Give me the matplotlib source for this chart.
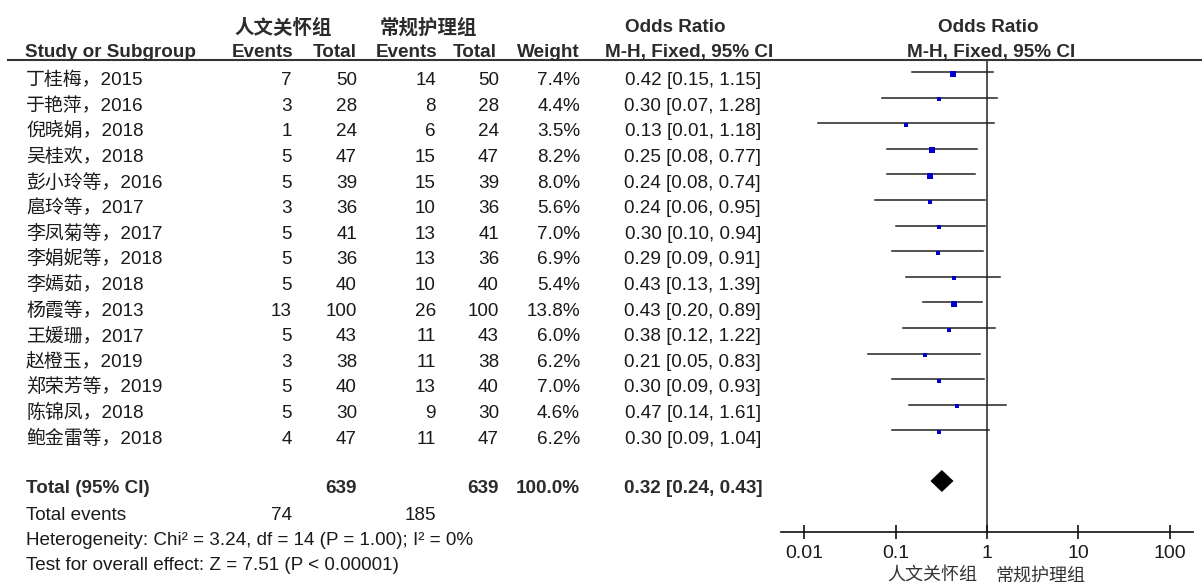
import matplotlib
matplotlib.use("Agg")
import matplotlib.pyplot as plt
import numpy as np

plt.rcParams['font.family'] = ['Liberation Sans', 'Noto Sans CJK SC', 'DejaVu Sans']

# ---------------- data ----------------
studies = ["丁桂梅，2015", "于艳萍，2016", "倪晓娟，2018", "吴桂欢，2018", "彭小玲等，2016",
           "扈玲等，2017", "李凤菊等，2017", "李娟妮等，2018", "李嫣茹，2018", "杨霞等，2013",
           "王媛珊，2017", "赵橙玉，2019", "郑荣芳等，2019", "陈锦凤，2018", "鲍金雷等，2018"]
events_exp = [7, 3, 1, 5, 5, 3, 5, 5, 5, 13, 5, 3, 5, 5, 4]
total_exp = [50, 28, 24, 47, 39, 36, 41, 36, 40, 100, 43, 38, 40, 30, 47]
events_ctl = [14, 8, 6, 15, 15, 10, 13, 13, 10, 26, 11, 11, 13, 9, 11]
total_ctl = [50, 28, 24, 47, 39, 36, 41, 36, 40, 100, 43, 38, 40, 30, 47]
weights = [7.4, 4.4, 3.5, 8.2, 8.0, 5.6, 7.0, 6.9, 5.4, 13.8, 6.0, 6.2, 7.0, 4.6, 6.2]
odds = [0.42, 0.30, 0.13, 0.25, 0.24, 0.24, 0.30, 0.29, 0.43, 0.43, 0.38, 0.21, 0.30, 0.47, 0.30]
ci_low = [0.15, 0.07, 0.014, 0.08, 0.08, 0.06, 0.10, 0.09, 0.13, 0.20, 0.12, 0.05, 0.09, 0.14, 0.09]
ci_high = [1.15, 1.28, 1.18, 0.77, 0.74, 0.95, 0.94, 0.91, 1.39, 0.89, 1.22, 0.83, 0.93, 1.61, 1.04]
pooled = (0.32, 0.24, 0.43)
total_weight = 100.0
group_labels = ["人文关怀组", "常规护理组"]
tick_values = [0.01, 0.1, 1, 10, 100]
tick_labels = ["0.01", "0.1", "1", "10", "100"]
heterogeneity_text = "Heterogeneity: Chi² = 3.24, df = 14 (P = 1.00); I² = 0%"
overall_text = "Test for overall effect: Z = 7.51 (P < 0.00001)"

# ---------------- layout ----------------
W, H = 1202, 583
fig = plt.figure(figsize=(W / 100, H / 100), dpi=100)
ax = fig.add_axes([0, 0, 1, 1])
ax.set_xlim(0, W)
ax.set_ylim(H, 0)
ax.axis('off')

FS = 13.6
TXT = '#1a1a1a'
HDR = '#2b2b2b'
row0, dy = 73.5, 25.6
base_off = 11.7


def row_line(i):
    return row0 + dy * i


def row_base(i):
    return row_line(i) + base_off


x_name = 26
x_e1, x_t1, x_e2, x_t2, x_w, x_or = 292, 357, 436, 499, 580, 761
x_hdr_or = 689

# headers
ax.text(283, 34, group_labels[0], fontsize=14, fontweight='bold', color=HDR,
        ha='center', va='baseline', family=['Noto Sans CJK SC'])
ax.text(428, 34, group_labels[1], fontsize=14, fontweight='bold', color=HDR,
        ha='center', va='baseline', family=['Noto Sans CJK SC'])
hb2 = 57
ax.text(x_name - 1, hb2, "Study or Subgroup", fontsize=FS, fontweight='bold', color=HDR, ha='left', va='baseline')
for xx, lab in [(x_e1 + 1, "Events"), (x_t1, "Total"), (x_e2 + 1, "Events"), (x_t2 - 2, "Total"), (x_w, "Weight")]:
    ax.text(xx, hb2, lab, fontsize=FS, fontweight='bold', color=HDR, ha='right', va='baseline')
ax.text(x_hdr_or - 14, 32, "Odds Ratio", fontsize=FS, fontweight='bold', color=HDR, ha='center', va='baseline')
ax.text(x_hdr_or, hb2, "M-H, Fixed, 95% CI", fontsize=FS, fontweight='bold', color=HDR, ha='center', va='baseline')
ax.text(988, 32, "Odds Ratio", fontsize=FS, fontweight='bold', color=HDR, ha='center', va='baseline')
ax.text(991, hb2, "M-H, Fixed, 95% CI", fontsize=FS, fontweight='bold', color=HDR, ha='center', va='baseline')
ax.plot([7, W], [59.5, 59.5], color='#333333', lw=1.5, solid_capstyle='butt')

# study rows
for i, name in enumerate(studies):
    yb = row_base(i)
    ax.text(x_name, yb, name, fontsize=FS, color=TXT, ha='left', va='baseline')
    ax.text(x_e1, yb, str(events_exp[i]), fontsize=FS, color=TXT, ha='right', va='baseline')
    ax.text(x_t1, yb, str(total_exp[i]), fontsize=FS, color=TXT, ha='right', va='baseline')
    ax.text(x_e2, yb, str(events_ctl[i]), fontsize=FS, color=TXT, ha='right', va='baseline')
    ax.text(x_t2, yb, str(total_ctl[i]), fontsize=FS, color=TXT, ha='right', va='baseline')
    ax.text(x_w, yb, f"{weights[i]:.1f}%", fontsize=FS, color=TXT, ha='right', va='baseline')
    ax.text(x_or, yb, f"{odds[i]:.2f} [{ci_low[i]:.2f}, {ci_high[i]:.2f}]", fontsize=FS,
            color=TXT, ha='right', va='baseline')

# total row
tb = 493
ax.text(x_name, tb, "Total (95% CI)", fontsize=FS, fontweight='bold', color=HDR, ha='left', va='baseline')
ax.text(x_t1, tb, str(sum(total_exp)), fontsize=FS, fontweight='bold', color=HDR, ha='right', va='baseline')
ax.text(x_t2, tb, str(sum(total_ctl)), fontsize=FS, fontweight='bold', color=HDR, ha='right', va='baseline')
ax.text(x_w, tb, f"{total_weight:.1f}%", fontsize=FS, fontweight='bold', color=HDR, ha='right', va='baseline')
ax.text(x_or + 1, tb, f"{pooled[0]:.2f} [{pooled[1]:.2f}, {pooled[2]:.2f}]", fontsize=FS,
        fontweight='bold', color=HDR, ha='right', va='baseline')

eb = 519.5
ax.text(x_name, eb, "Total events", fontsize=FS, color=TXT, ha='left', va='baseline')
ax.text(x_e1, eb, str(sum(events_exp)), fontsize=FS, color=TXT, ha='right', va='baseline')
ax.text(x_e2, eb, str(sum(events_ctl)), fontsize=FS, color=TXT, ha='right', va='baseline')
ax.text(x_name, 545, heterogeneity_text, fontsize=FS, color=TXT, ha='left', va='baseline')
ax.text(x_name, 570.5, overall_text, fontsize=FS, color=TXT, ha='left', va='baseline')

# ---------------- forest axes ----------------
fx0, fx1 = 781, 1193
fy_top, fy_bot = 60, 532
axf = fig.add_axes([fx0 / W, (H - fy_bot) / H, (fx1 - fx0) / W, (fy_bot - fy_top) / H])
axf.set_xscale('log')
lim = 10 ** 2.256
axf.set_xlim(1 / lim, lim)
axf.set_ylim(fy_bot, fy_top)
axf.patch.set_alpha(0)
for s in ['left', 'right', 'top']:
    axf.spines[s].set_visible(False)
axf.spines['bottom'].set_linewidth(1.2)
axf.spines['bottom'].set_color('#111111')
axf.set_yticks([])
axf.set_xticks(tick_values)
axf.set_xticklabels(tick_labels)
axf.xaxis.set_minor_locator(matplotlib.ticker.NullLocator())
axf.tick_params(axis='x', direction='inout', length=10, width=1.2, color='#111111',
                labelsize=14, pad=4.3, labelcolor=TXT)

axf.axvline(1, color='#333333', lw=1.2, zorder=1)

for i in range(len(studies)):
    y = row_line(i)
    axf.plot([ci_low[i], ci_high[i]], [y - 1.5, y - 1.5], color='#222222', lw=1.1, clip_on=False, zorder=2)
    ms = 5.0 * np.sqrt(weights[i] / 13.8)
    axf.plot([odds[i]], [y], marker='s', ms=ms, color='#0000cc', mec='#0000cc', mew=0,
             clip_on=False, zorder=3)

dc = 481
dh = 11
axf.fill([pooled[1], pooled[0], pooled[2], pooled[0]], [dc, dc - dh, dc, dc + dh],
         color='black', lw=0, zorder=3)

ax.text(977, 581, group_labels[0], fontsize=13, color='#333333', ha='right', va='baseline',
        family=['Noto Sans CJK SC'])
ax.text(995, 581, group_labels[1], fontsize=13, color='#333333', ha='left', va='baseline',
        family=['Noto Sans CJK SC'])

fig.savefig("out.png", dpi=100)
